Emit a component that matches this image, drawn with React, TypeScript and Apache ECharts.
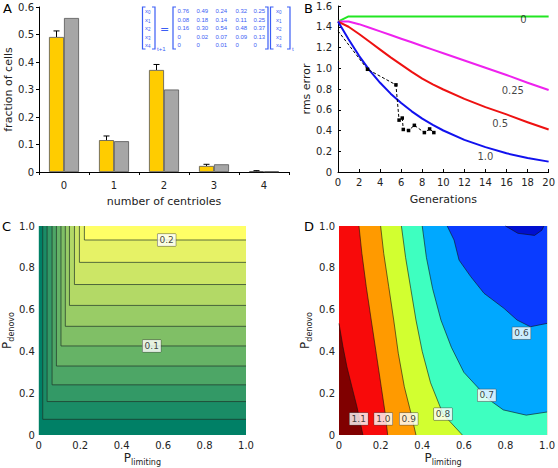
import React, { useEffect, useRef } from 'react';
import * as echarts from 'echarts';

// ---------- Panel A data ----------
const centrioleCategories = ['0', '1', '2', '3', '4'];
const observedFraction = [0.491, 0.116, 0.371, 0.022, 0.003];
const observedError = [0.022, 0.015, 0.02, 0.006, 0.002];
const modelFraction = [0.56, 0.112, 0.3, 0.028, 0.002];
const transitionMatrix = [
  ['0.76', '0.49', '0.24', '0.32', '0.25'],
  ['0.08', '0.18', '0.14', '0.11', '0.25'],
  ['0.16', '0.30', '0.54', '0.48', '0.37'],
  ['0', '0.02', '0.07', '0.09', '0.13'],
  ['0', '0', '0.01', '0', '0'],
];

// ---------- Panel B data ----------
const generations = [0, 1, 2, 3, 4, 5, 6, 7, 8, 9, 10, 12, 14, 16, 18, 20];
const rmsLimiting025 = [1.45, 1.45, 1.425, 1.39, 1.355, 1.32, 1.285, 1.25, 1.215, 1.18, 1.145, 1.075, 1.005, 0.935, 0.86, 0.79];
const rmsLimiting05 = [1.45, 1.4, 1.33, 1.255, 1.18, 1.105, 1.035, 0.965, 0.9, 0.845, 0.795, 0.705, 0.625, 0.555, 0.48, 0.41];
const rmsLimiting10 = [1.45, 1.28, 1.12, 0.98, 0.86, 0.755, 0.665, 0.585, 0.515, 0.455, 0.4, 0.31, 0.24, 0.18, 0.135, 0.1];
const rmsLimiting0Gen = [0, 1, 20];
const rmsLimiting0 = [1.45, 1.5, 1.5];
const expGen = [0, 2.8, 5.5, 5.8, 6.1, 6.2, 6.7, 7.25, 8.2, 8.7, 9.1];
const expRms = [1.36, 0.99, 0.84, 0.5, 0.52, 0.41, 0.4, 0.45, 0.38, 0.415, 0.38];
const curveLabels = [
  { x: 17.6, y: 1.47, text: '0' },
  { x: 16.6, y: 0.79, text: '0.25' },
  { x: 15.4, y: 0.47, text: '0.5' },
  { x: 14.0, y: 0.15, text: '1.0' },
];

// ---------- Panel C data ----------
const cLevels = [0.02, 0.04, 0.06, 0.08, 0.1, 0.12, 0.14, 0.16, 0.18, 0.2];
const cCornerLimiting = [0.019, 0.04, 0.064, 0.085, 0.107, 0.128, 0.148, 0.172, 0.196, 0.22];
const cCornerDenovo = [0.075, 0.16, 0.24, 0.33, 0.426, 0.52, 0.62, 0.72, 0.826, 0.933];
const cLabels = [
  { x: 0.617, y: 0.933, text: '0.2' },
  { x: 0.545, y: 0.426, text: '0.1' },
];

// ---------- Panel D data ----------
const dLevels = [1.1, 1.0, 0.9, 0.8, 0.7, 0.6, 0.5];
const dBoundaries = [
  [[0, 0.534], [0.019, 0.423], [0.038, 0.327], [0.062, 0.231], [0.086, 0.136], [0.115, 0]],
  [[0.096, 1], [0.11, 0.869], [0.131, 0.71], [0.155, 0.55], [0.179, 0.391], [0.203, 0.231], [0.222, 0.104], [0.234, 0]],
  [[0.2, 1], [0.215, 0.869], [0.239, 0.71], [0.263, 0.55], [0.285, 0.391], [0.314, 0.231], [0.346, 0.104], [0.37, 0]],
  [[0.3, 1], [0.32, 0.85], [0.345, 0.7], [0.37, 0.55], [0.4, 0.4], [0.44, 0.25], [0.5, 0.1], [0.593, 0]],
  [[0.4, 1], [0.42, 0.85], [0.45, 0.7], [0.49, 0.55], [0.54, 0.42], [0.6, 0.3], [0.665, 0.23], [0.72, 0.17], [0.79, 0.12], [0.9, 0.095], [1, 0.11]],
  [[0.52, 1], [0.553, 0.933], [0.577, 0.837], [0.633, 0.758], [0.697, 0.678], [0.793, 0.606], [0.856, 0.55], [0.92, 0.518], [1, 0.534]],
  [[0.8, 1], [0.86, 0.965], [0.94, 0.955], [0.975, 0.98], [0.985, 1]],
];
const dLabels = [
  { x: 0.095, y: 0.077, text: '1.1' },
  { x: 0.213, y: 0.077, text: '1.0' },
  { x: 0.335, y: 0.077, text: '0.9' },
  { x: 0.5, y: 0.1, text: '0.8' },
  { x: 0.71, y: 0.19, text: '0.7' },
  { x: 0.877, y: 0.487, text: '0.6' },
];

const FONT = 'DejaVu Sans';
const TXT = '#222';
const dColors = ['#800000', '#f80a0a', '#ff9a00', '#d2ff30', '#3effc0', '#00a8ff', '#0a3cff', '#0010d0'];
const summer = (t: number) => `rgb(${Math.round(255 * t)},${Math.round(255 * (0.5 + 0.5 * t))},102)`;

const fmt1 = (v: number) => (v === 0 ? '0' : v.toFixed(1));

export default function App() {
  const ref = useRef<HTMLDivElement>(null);
  useEffect(() => {
    if (!ref.current) return;
    const chart = echarts.init(ref.current, undefined, { renderer: 'svg' });

    const axisLabel = { fontFamily: FONT, fontSize: 10, color: TXT };
    const nameStyle = { fontFamily: FONT, fontSize: 11, color: TXT };
    const subName = {
      fontFamily: FONT,
      color: TXT,
      rich: {
        p: { fontFamily: FONT, fontSize: 12, color: TXT },
        s: { fontFamily: FONT, fontSize: 8, color: TXT, padding: [8, 0, 0, 0] },
      },
    };
    const blackLine = { show: true, lineStyle: { color: '#000', width: 1 } };

    // matrix graphic
    const mc = '#3b5ef5';
    const rowY = [11, 19.5, 28, 36.5, 45];
    const colX = [177.5, 196.5, 215.5, 235.5, 253.5];
    const mfont = { fontFamily: 'Liberation Sans', fontSize: 6, fill: mc };
    const subRich = { s: { fontFamily: 'Liberation Sans', fontSize: 4.5, fill: mc, padding: [3, 0, 0, 0] } };
    const graphics: any[] = [];
    const bracket = (x: number, dir: number) => ({
      type: 'polyline',
      shape: { points: [[x + 3 * dir, 7], [x, 7], [x, 49], [x + 3 * dir, 49]] },
      style: { stroke: mc, lineWidth: 1.2, fill: null },
    });
    graphics.push(bracket(142.5, 1), bracket(155, -1), bracket(173, 1), bracket(268, -1), bracket(270.5, 1), bracket(290, -1));
    rowY.forEach((y, i) => {
      graphics.push({
        type: 'text', x: 145, y,
        style: { text: `x{s|${i}}`, ...mfont, verticalAlign: 'middle', rich: subRich },
      });
      graphics.push({
        type: 'text', x: 276, y,
        style: { text: `x{s|${i}}`, ...mfont, verticalAlign: 'middle', rich: subRich },
      });
      transitionMatrix[i].forEach((v, j) => {
        graphics.push({ type: 'text', x: colX[j], y, style: { text: v, ...mfont, verticalAlign: 'middle' } });
      });
    });
    graphics.push({ type: 'text', x: 157, y: 48.5, style: { text: 't+1', ...mfont, verticalAlign: 'middle' } });
    graphics.push({ type: 'text', x: 292, y: 49, style: { text: 't', ...mfont, verticalAlign: 'middle' } });
    graphics.push({ type: 'text', x: 160, y: 29, style: { text: '=', fontFamily: FONT, fontSize: 11, fill: mc, verticalAlign: 'middle' } });
    const letter = (t: string, x: number, y: number) => ({
      type: 'text', x, y, style: { text: t, fontFamily: FONT, fontSize: 13, fill: '#000' },
    });
    graphics.push(letter('A', 3, 2), letter('B', 304, 2), letter('C', 2, 220), letter('D', 304, 220));

    const labelScatter = (xi: number, items: { x: number; y: number; text: string }[], boxed: boolean) => ({
      type: 'scatter',
      xAxisIndex: xi,
      yAxisIndex: xi,
      symbolSize: 1,
      itemStyle: { color: 'rgba(0,0,0,0)' },
      z: 10,
      silent: true,
      data: items.map((d) => ({ value: [d.x, d.y], name: d.text })),
      label: {
        show: true,
        position: 'inside',
        formatter: (p: any) => p.name,
        fontFamily: FONT,
        fontSize: boxed ? 9 : 10,
        color: '#111',
        ...(boxed
          ? { backgroundColor: '#fff', borderColor: '#444', borderWidth: 0.5, padding: [2, 2, 1, 2] }
          : {}),
      },
    });

    const option: any = {
      animation: false,
      graphic: graphics,
      grid: [
        { left: 39, top: 7, width: 250, height: 165 },
        { left: 338, top: 6, width: 213.5, height: 166 },
        { left: 36, top: 226, width: 210, height: 209 },
        { left: 339, top: 226, width: 209, height: 209 },
      ],
      xAxis: [
        {
          gridIndex: 0, type: 'category', data: centrioleCategories, boundaryGap: true,
          axisLine: blackLine, axisTick: { show: true, length: 3, lineStyle: { color: '#000' } },
          axisLabel: { ...axisLabel, margin: 8 },
          name: 'number of centrioles', nameLocation: 'middle', nameGap: 24, nameTextStyle: nameStyle,
        },
        {
          gridIndex: 1, type: 'value', min: 0, max: 20, interval: 2,
          axisLine: blackLine, axisTick: { show: true, inside: true, length: 3, lineStyle: { color: '#000' } },
          splitLine: { show: false }, axisLabel: { ...axisLabel, margin: 5 },
          name: 'Generations', nameLocation: 'middle', nameGap: 22, nameTextStyle: nameStyle,
        },
        {
          gridIndex: 2, type: 'value', min: 0, max: 1, interval: 0.2,
          axisLine: { show: false }, axisTick: { show: false }, splitLine: { show: false },
          axisLabel: { ...axisLabel, margin: 5, formatter: fmt1 },
          name: '{p|P}{s|limiting}', nameLocation: 'middle', nameGap: 15, nameTextStyle: subName,
        },
        {
          gridIndex: 3, type: 'value', min: 0, max: 1, interval: 0.2,
          axisLine: { show: false }, axisTick: { show: false }, splitLine: { show: false },
          axisLabel: { ...axisLabel, margin: 5, formatter: fmt1 },
          name: '{p|P}{s|limiting}', nameLocation: 'middle', nameGap: 15, nameTextStyle: subName,
        },
      ],
      yAxis: [
        {
          gridIndex: 0, type: 'value', min: 0, max: 0.6, interval: 0.1,
          axisLine: blackLine, axisTick: { show: true, length: 3, lineStyle: { color: '#000' } },
          splitLine: { show: false }, axisLabel: { ...axisLabel, margin: 5, formatter: fmt1 },
          name: 'fraction of cells', nameLocation: 'middle', nameGap: 23, nameTextStyle: nameStyle,
        },
        {
          gridIndex: 1, type: 'value', min: 0, max: 1.6, interval: 0.2,
          axisLine: blackLine, axisTick: { show: true, inside: true, length: 3, lineStyle: { color: '#000' } },
          splitLine: { show: false }, axisLabel: { ...axisLabel, margin: 6, formatter: fmt1 },
          name: 'rms error', nameLocation: 'middle', nameGap: 24, nameTextStyle: nameStyle,
        },
        {
          gridIndex: 2, type: 'value', min: 0, max: 1, interval: 0.2,
          axisLine: { show: false }, axisTick: { show: false }, splitLine: { show: false },
          axisLabel: { ...axisLabel, margin: 4, formatter: fmt1 },
          name: '{p|P}{s|denovo}', nameLocation: 'middle', nameGap: 20, nameTextStyle: subName,
        },
        {
          gridIndex: 3, type: 'value', min: 0, max: 1, interval: 0.2,
          axisLine: { show: false }, axisTick: { show: false }, splitLine: { show: false },
          axisLabel: { ...axisLabel, margin: 4, formatter: fmt1 },
          name: '{p|P}{s|denovo}', nameLocation: 'middle', nameGap: 26, nameTextStyle: subName,
        },
      ],
      series: [
        // ---- A ----
        {
          type: 'bar', xAxisIndex: 0, yAxisIndex: 0, data: observedFraction, barWidth: 15, barGap: '0%',
          itemStyle: { color: '#ffcc00', borderColor: '#555', borderWidth: 0.8 },
        },
        {
          type: 'bar', xAxisIndex: 0, yAxisIndex: 0, data: modelFraction, barWidth: 15,
          itemStyle: { color: '#a6a6a6', borderColor: '#555', borderWidth: 0.8 },
        },
        {
          type: 'custom', xAxisIndex: 0, yAxisIndex: 0, z: 4,
          data: observedFraction.map((v, i) => [i, v, v + observedError[i]]),
          renderItem: (params: any, api: any) => {
            const base = api.coord([api.value(0), api.value(1)]);
            const top = api.coord([api.value(0), api.value(2)]);
            const x = base[0] - 7.5;
            return {
              type: 'group',
              children: [
                { type: 'line', shape: { x1: x, y1: base[1], x2: x, y2: top[1] }, style: { stroke: '#000', lineWidth: 1 } },
                { type: 'line', shape: { x1: x - 3, y1: top[1], x2: x + 3, y2: top[1] }, style: { stroke: '#000', lineWidth: 1 } },
              ],
            };
          },
        },
        // ---- B ----
        {
          type: 'line', xAxisIndex: 1, yAxisIndex: 1, symbol: 'none',
          data: rmsLimiting0Gen.map((g, i) => [g, rmsLimiting0[i]]),
          lineStyle: { color: '#22e622', width: 2 },
        },
        {
          type: 'line', xAxisIndex: 1, yAxisIndex: 1, symbol: 'none', smooth: false,
          data: generations.map((g, i) => [g, rmsLimiting025[i]]),
          lineStyle: { color: '#ee22ee', width: 2, join: 'round' },
        },
        {
          type: 'line', xAxisIndex: 1, yAxisIndex: 1, symbol: 'none', smooth: false,
          data: generations.map((g, i) => [g, rmsLimiting05[i]]),
          lineStyle: { color: '#ee1111', width: 2, join: 'round' },
        },
        {
          type: 'line', xAxisIndex: 1, yAxisIndex: 1, symbol: 'none', smooth: false,
          data: generations.map((g, i) => [g, rmsLimiting10[i]]),
          lineStyle: { color: '#1111ee', width: 2, join: 'round' },
        },
        {
          type: 'line', xAxisIndex: 1, yAxisIndex: 1, symbol: 'rect', symbolSize: 3.5, z: 5,
          data: expGen.map((g, i) => (i === 0 ? { value: [g, expRms[i]], symbol: 'none' } : [g, expRms[i]])),
          lineStyle: { color: '#000', width: 1, type: [3, 2] },
          itemStyle: { color: '#000' },
        },
        labelScatter(1, curveLabels, false),
        // ---- C ----
        {
          type: 'custom', xAxisIndex: 2, yAxisIndex: 2, silent: true,
          data: [[0, 0, 0], ...cLevels.map((_, k) => [cCornerLimiting[k], cCornerDenovo[k], k + 1])],
          renderItem: (params: any, api: any) => {
            const pl = api.value(0);
            const pd = api.value(1);
            const k = api.value(2);
            const p0 = api.coord([pl, pd]);
            const p1 = api.coord([1, 1]);
            const children: any[] = [
              {
                type: 'rect',
                shape: { x: p0[0], y: p1[1], width: p1[0] - p0[0], height: p0[1] - p1[1] },
                style: { fill: summer(k / 10) },
              },
            ];
            if (k > 0) {
              children.push({
                type: 'polyline',
                shape: { points: [api.coord([pl, 1]), p0, api.coord([1, pd])] },
                style: { stroke: '#1e3328', lineWidth: 0.7, fill: null },
              });
            }
            return { type: 'group', children };
          },
        },
        labelScatter(2, cLabels, true),
        // ---- D ----
        {
          type: 'custom', xAxisIndex: 3, yAxisIndex: 3, silent: true,
          data: [[-1], ...dLevels.map((_, i) => [i])],
          renderItem: (params: any, api: any) => {
            const i = api.value(0);
            if (i < 0) {
              const a = api.coord([0, 0]);
              const b = api.coord([1, 1]);
              return { type: 'rect', shape: { x: a[0], y: b[1], width: b[0] - a[0], height: a[1] - b[1] }, style: { fill: dColors[0] } };
            }
            const bnd = dBoundaries[i];
            const pts: number[][] = bnd.map((p) => p.slice());
            const end = bnd[bnd.length - 1];
            const start = bnd[0];
            if (end[1] === 0) pts.push([1, 0], [1, 1]);
            else if (end[0] === 1) pts.push([1, 1]);
            if (start[0] === 0) pts.push([0, 1]);
            return {
              type: 'group',
              children: [
                { type: 'polygon', shape: { points: pts.map((p) => api.coord(p)) }, style: { fill: dColors[i + 1] } },
                { type: 'polyline', shape: { points: bnd.map((p) => api.coord(p)) }, style: { stroke: '#111', lineWidth: 0.6, fill: null } },
              ],
            };
          },
        },
        labelScatter(3, dLabels, true),
      ],
    };
    chart.setOption(option);
    return () => chart.dispose();
  }, []);
  return <div ref={ref} style={{ position: 'absolute', left: 0, top: 0, width: 558, height: 468, background: '#fff' }} />;
}
